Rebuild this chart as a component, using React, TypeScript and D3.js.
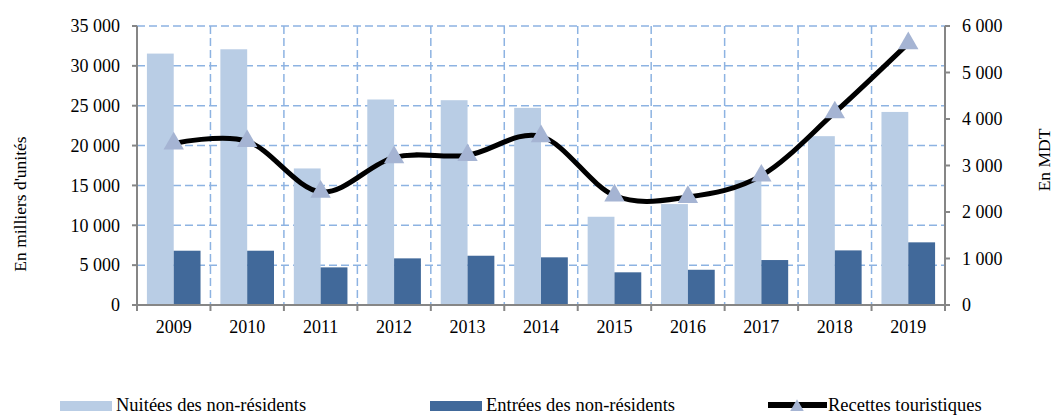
import * as React from "react";
import * as d3 from "d3";

const years = ["2009", "2010", "2011", "2012", "2013", "2014", "2015", "2016", "2017", "2018", "2019"];
const nuitees = [31540, 32080, 17130, 25780, 25690, 24730, 11070, 12660, 15660, 21180, 24220];
const entrees = [6810, 6810, 4720, 5850, 6180, 5980, 4100, 4420, 5640, 6850, 7860];
const recettes = [3472, 3522, 2433, 3175, 3221, 3626, 2354, 2322, 2781, 4141, 5627];
const leftTicks = [0, 5000, 10000, 15000, 20000, 25000, 30000, 35000];
const rightTicks = [0, 1000, 2000, 3000, 4000, 5000, 6000];

const fmt = (v: number) => d3.format(",")(v).replace(/,/g, " ");

function App() {
  const width = 1056;
  const height = 416;
  const margin = { left: 137, right: 111, top: 26, bottom: 111 };
  const innerW = width - margin.left - margin.right;
  const innerH = height - margin.top - margin.bottom;

  const x = d3.scaleBand().domain(years).range([0, innerW]).paddingInner(0.27).paddingOuter(0.135);
  const xCat = d3.scaleBand().domain(years).range([0, innerW]);
  const yL = d3.scaleLinear().domain([0, 35000]).range([innerH, 0]);
  const yR = d3.scaleLinear().domain([0, 6000]).range([innerH, 0]);
  const bw = x.bandwidth() / 2;

  const light = "#b9cde5";
  const dark = "#41699a";
  const tri = "#a5b4d3";
  const axisC = "#868686";
  const gridC = "#8db3e2";
  const textStyle = { fontFamily: "'Liberation Serif', 'DejaVu Serif', serif" };

  const line = d3
    .line<number>()
    .x((_, i) => (xCat(years[i]) as number) + xCat.bandwidth() / 2)
    .y((d) => yR(d))
    .curve(d3.curveCardinal.tension(0));
  const triangle = d3.symbol(d3.symbolTriangle, 180)() ?? "";
  const smallTri = d3.symbol(d3.symbolTriangle, 80)() ?? "";

  const boundaries = years.map((_, i) => i * xCat.step()).concat([innerW]);

  return (
    <svg width={width} height={height} style={{ position: "absolute", left: 0, top: 0, ...textStyle }}>
      <g transform={`translate(${margin.left},${margin.top})`}>
        {/* grid */}
        {leftTicks.slice(1).map((t) => (
          <line key={"h" + t} x1={0} x2={innerW} y1={yL(t)} y2={yL(t)} stroke={gridC} strokeWidth={1.5} strokeDasharray="8,4" />
        ))}
        {boundaries.slice(1, -1).map((b, i) => (
          <line key={"v" + i} x1={b} x2={b} y1={0} y2={innerH} stroke={gridC} strokeWidth={1.5} strokeDasharray="8,4" />
        ))}
        {/* bars */}
        {years.map((yr, i) => (
          <g key={yr}>
            <rect x={x(yr)} y={yL(nuitees[i])} width={bw} height={innerH - yL(nuitees[i])} fill={light} />
            <rect x={(x(yr) as number) + bw} y={yL(entrees[i])} width={bw} height={innerH - yL(entrees[i])} fill={dark} />
          </g>
        ))}
        {/* line */}
        <path d={line(recettes) ?? ""} fill="none" stroke="#000" strokeWidth={5} />
        {recettes.map((v, i) => (
          <path
            key={i}
            d={triangle}
            transform={`translate(${(xCat(years[i]) as number) + xCat.bandwidth() / 2},${yR(v)})`}
            fill={tri}
          />
        ))}
        {/* left axis */}
        <line x1={0} x2={0} y1={0} y2={innerH} stroke={axisC} strokeWidth={2} />
        {leftTicks.map((t) => (
          <g key={"l" + t} transform={`translate(0,${yL(t)})`}>
            <line x1={-5} x2={0} stroke={axisC} strokeWidth={2} />
            <text x={-17} dy="0.35em" textAnchor="end" fontSize={18} style={textStyle}>
              {fmt(t)}
            </text>
          </g>
        ))}
        {/* right axis */}
        <line x1={innerW} x2={innerW} y1={0} y2={innerH} stroke={axisC} strokeWidth={2} />
        {rightTicks.map((t) => (
          <g key={"r" + t} transform={`translate(${innerW},${yR(t)})`}>
            <line x1={0} x2={5} stroke={axisC} strokeWidth={2} />
            <text x={17} dy="0.35em" textAnchor="start" fontSize={18} style={textStyle}>
              {fmt(t)}
            </text>
          </g>
        ))}
        {/* bottom axis */}
        <line x1={0} x2={innerW} y1={innerH} y2={innerH} stroke={axisC} strokeWidth={2} />
        {boundaries.map((b, i) => (
          <line key={"bt" + i} x1={b} x2={b} y1={innerH} y2={innerH + 6} stroke={axisC} strokeWidth={2} />
        ))}
        {years.map((yr) => (
          <text
            key={"yl" + yr}
            x={(xCat(yr) as number) + xCat.bandwidth() / 2}
            y={innerH + 28}
            textAnchor="middle"
            fontSize={18}
            style={textStyle}
          >
            {yr}
          </text>
        ))}
      </g>
      {/* axis titles */}
      <text transform="translate(26,204) rotate(-90)" textAnchor="middle" fontSize={17.5} style={textStyle}>
        En milliers d'unités
      </text>
      <text transform="translate(1050,160) rotate(-90)" textAnchor="middle" fontSize={17.5} style={textStyle}>
        En MDT
      </text>
      {/* legend */}
      <g fontSize={18.5} style={textStyle}>
        <rect x={60} y={401} width={52} height={10} fill={light} />
        <text x={116} y={411}>Nuitées des non-résidents</text>
        <rect x={430} y={401} width={52} height={10} fill={dark} />
        <text x={486} y={411}>Entrées des non-résidents</text>
        <line x1={768} x2={827} y1={405} y2={405} stroke="#000" strokeWidth={6} />
        <path d={smallTri} transform="translate(797,407)" fill={tri} />
        <text x={828} y={411}>Recettes touristiques</text>
      </g>
    </svg>
  );
}

export default App;
